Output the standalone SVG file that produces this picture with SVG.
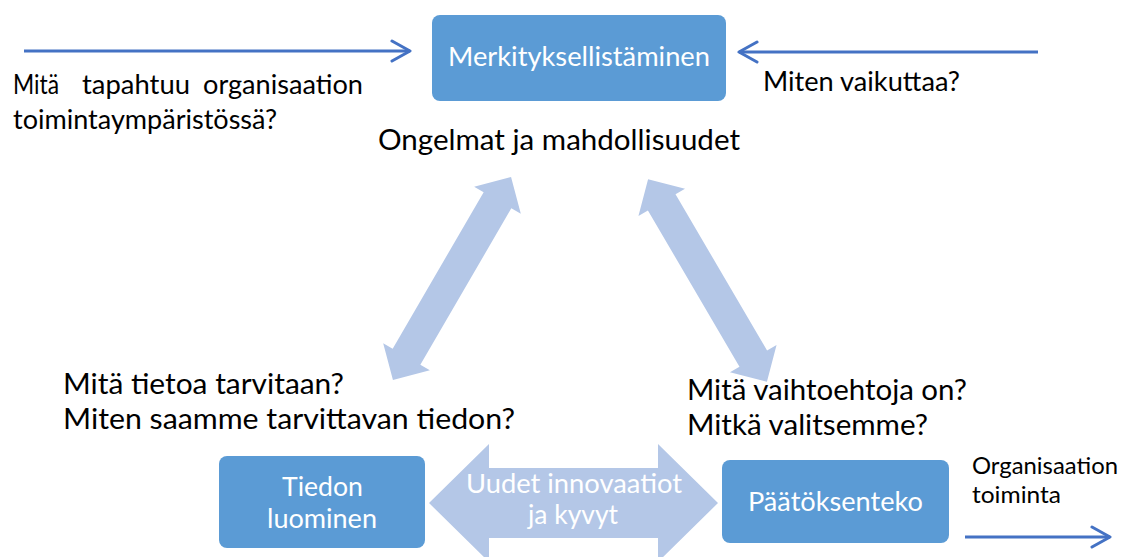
<svg xmlns="http://www.w3.org/2000/svg" width="1123" height="557" viewBox="0 0 1123 557">
<style>
.box{fill:#5B9BD5;}
.blk{fill:#B4C7E7;}
.ln{stroke:#4472C4;stroke-width:3;fill:none;marker-end:url(#chev);}
.wt{font-family:Lato,"Liberation Sans",sans-serif;fill:#FFFFFF;text-anchor:middle;}
.bk{font-family:Lato,"Liberation Sans",sans-serif;fill:#000000;}
</style>
<defs>
<marker id="chev" viewBox="0 0 22 24" refX="20" refY="12" markerWidth="22" markerHeight="24" markerUnits="userSpaceOnUse" orient="auto">
<path d="M2,2 L20,12 L2,22" fill="none" stroke="#4472C4" stroke-width="3" stroke-linecap="round" stroke-linejoin="round"/>
</marker>
<polygon id="dbl" points="-117.5,0 -90.5,-27 -90.5,-16 90.5,-16 90.5,-27 117.5,0 90.5,27 90.5,16 -90.5,16 -90.5,27"/>
</defs>
<rect width="1123" height="557" fill="#FFFFFF"/>

<g id="connectors">
<use href="#dbl" class="blk" transform="translate(452,278.5) rotate(-59.83)"/>
<use href="#dbl" class="blk" transform="translate(707.5,280.5) rotate(59.62)"/>
<polygon class="blk" points="429,503 489,444 489,468 658,468 658,444 718,503 658,562 658,538 489,538 489,562"/>
<text class="wt" font-size="26.7"><tspan x="574" y="493" textLength="216" lengthAdjust="spacingAndGlyphs">Uudet innovaatiot</tspan><tspan x="573" y="524" textLength="90" lengthAdjust="spacingAndGlyphs">ja kyvyt</tspan></text>
<line class="ln" x1="24" y1="51" x2="410" y2="51"/>
<line class="ln" x1="1038" y1="52" x2="739" y2="52"/>
<line class="ln" x1="965" y1="537" x2="1110" y2="537"/>
</g>

<g id="node-merkityksellistaminen">
<rect class="box" x="432" y="15" width="294" height="86" rx="8"/>
<text class="wt" font-size="26.7" x="579" y="66" textLength="262" lengthAdjust="spacingAndGlyphs">Merkityksellistäminen</text>
</g>

<g id="node-tiedon-luominen">
<rect class="box" x="219" y="456" width="206" height="92" rx="8"/>
<text class="wt" font-size="26.7"><tspan x="322.5" y="496" textLength="81" lengthAdjust="spacingAndGlyphs">Tiedon</tspan><tspan x="322" y="528" textLength="110" lengthAdjust="spacingAndGlyphs">luominen</tspan></text>
</g>

<g id="node-paatoksenteko">
<rect class="box" x="722" y="460" width="227" height="83" rx="8"/>
<text class="wt" font-size="26.7" x="835.5" y="511" textLength="175" lengthAdjust="spacingAndGlyphs">Päätöksenteko</text>
</g>

<g id="labels">
<text class="bk" font-size="26.2"><tspan x="13" y="94" textLength="46" lengthAdjust="spacingAndGlyphs">Mitä</tspan><tspan x="82" y="94" textLength="108" lengthAdjust="spacingAndGlyphs">tapahtuu</tspan><tspan x="203" y="94" textLength="160" lengthAdjust="spacingAndGlyphs">organisaation</tspan><tspan x="13" y="129" textLength="264" lengthAdjust="spacingAndGlyphs">toimintaympäristössä?</tspan></text>
<text class="bk" font-size="26.2" x="763" y="91" textLength="197" lengthAdjust="spacingAndGlyphs">Miten vaikuttaa?</text>
<text class="bk" font-size="28.9" x="378" y="150" textLength="362" lengthAdjust="spacingAndGlyphs">Ongelmat ja mahdollisuudet</text>
<text class="bk" font-size="29.4"><tspan x="63" y="394" textLength="281" lengthAdjust="spacingAndGlyphs">Mitä tietoa tarvitaan?</tspan><tspan x="63" y="429" textLength="452" lengthAdjust="spacingAndGlyphs">Miten saamme tarvittavan tiedon?</tspan></text>
<text class="bk" font-size="28.5"><tspan x="687" y="400" textLength="280" lengthAdjust="spacingAndGlyphs">Mitä vaihtoehtoja on?</tspan><tspan x="687" y="435" textLength="241" lengthAdjust="spacingAndGlyphs">Mitkä valitsemme?</tspan></text>
<text class="bk" font-size="23.6"><tspan x="972" y="474" textLength="146" lengthAdjust="spacingAndGlyphs">Organisaation</tspan><tspan x="972" y="503" textLength="89" lengthAdjust="spacingAndGlyphs">toiminta</tspan></text>
</g>
</svg>
